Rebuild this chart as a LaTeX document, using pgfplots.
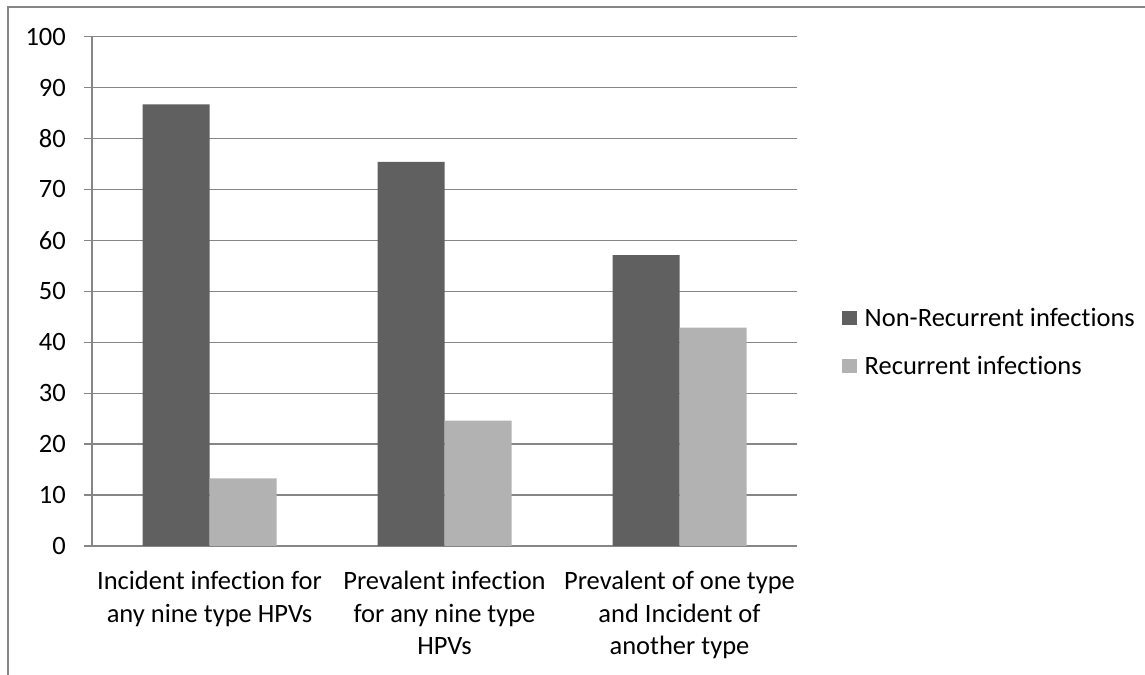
\documentclass[border=0pt]{standalone}
\usepackage{fontspec}
\setmainfont{Carlito}[Ligatures={NoCommon}]
\usepackage{pgfplots}
\pgfplotsset{compat=1.18}

\definecolor{nonrec}{HTML}{606060}
\definecolor{rec}{HTML}{B2B2B2}
\definecolor{gridgray}{HTML}{868686}

\begin{document}
\begin{tikzpicture}[x=1bp,y=1bp]
\useasboundingbox (0,0) rectangle (1145,675);
% chart frame
\draw[gridgray, line width=1.3bp] (8,0) -- (8,668) -- (1145,668);
\begin{axis}[
  at={(92bp,129bp)}, anchor=south west,
  scale only axis, width=705bp, height=509.3bp,
  ymin=0, ymax=100, ytick={0,10,...,100},
  xmin=-0.5, xmax=2.5,
  axis x line*=bottom, axis y line*=left,
  axis line style={gridgray, line width=1.3bp, -},
  ymajorgrids, major grid style={gridgray, line width=1.3bp},
  tick style={gridgray, line width=1.3bp},
  tick align=outside,
  major tick length=8bp,
  xtick={0,1,2},
  xtick style={draw=none},
  minor xtick={-0.5,0.5,1.5,2.5},
  minor tick length=9bp,
  xticklabels={Incident infection for\\any nine type HPVs,
               Prevalent infection\\for any nine type\\HPVs,
               Prevalent of one type\\and Incident of\\another type},
  xticklabel style={align=center, anchor=north, inner sep=0pt, yshift=-17bp,
                    font=\fontsize{26.5bp}{32.7bp}\selectfont},
  yticklabel style={anchor=east, inner sep=0pt, xshift=-18bp,
                    font=\fontsize{26.5bp}{30bp}\selectfont},
  /pgf/number format/assume math mode=true,
  ybar, bar width=67bp,
  legend style={draw=none, at={(1.0596,0.4005)}, anchor=west,
                font=\fontsize{26.5bp}{30bp}\selectfont,
                column sep=8bp, row sep=28bp,
                nodes={inner sep=0pt}},
  legend cell align=left,
  legend image code/.code={\fill[#1] (0bp,-7.25bp) rectangle (14.5bp,7.25bp);},
]
\addplot[fill=nonrec, draw=none, bar shift=-33.5bp] coordinates {(0,86.7) (1,75.4) (2,57.1)};
\addplot[fill=rec, draw=none, bar shift=33.5bp] coordinates {(0,13.3) (1,24.6) (2,42.9)};
\legend{Non-Recurrent infections, Recurrent infections}
\end{axis}
\end{tikzpicture}
\end{document}
